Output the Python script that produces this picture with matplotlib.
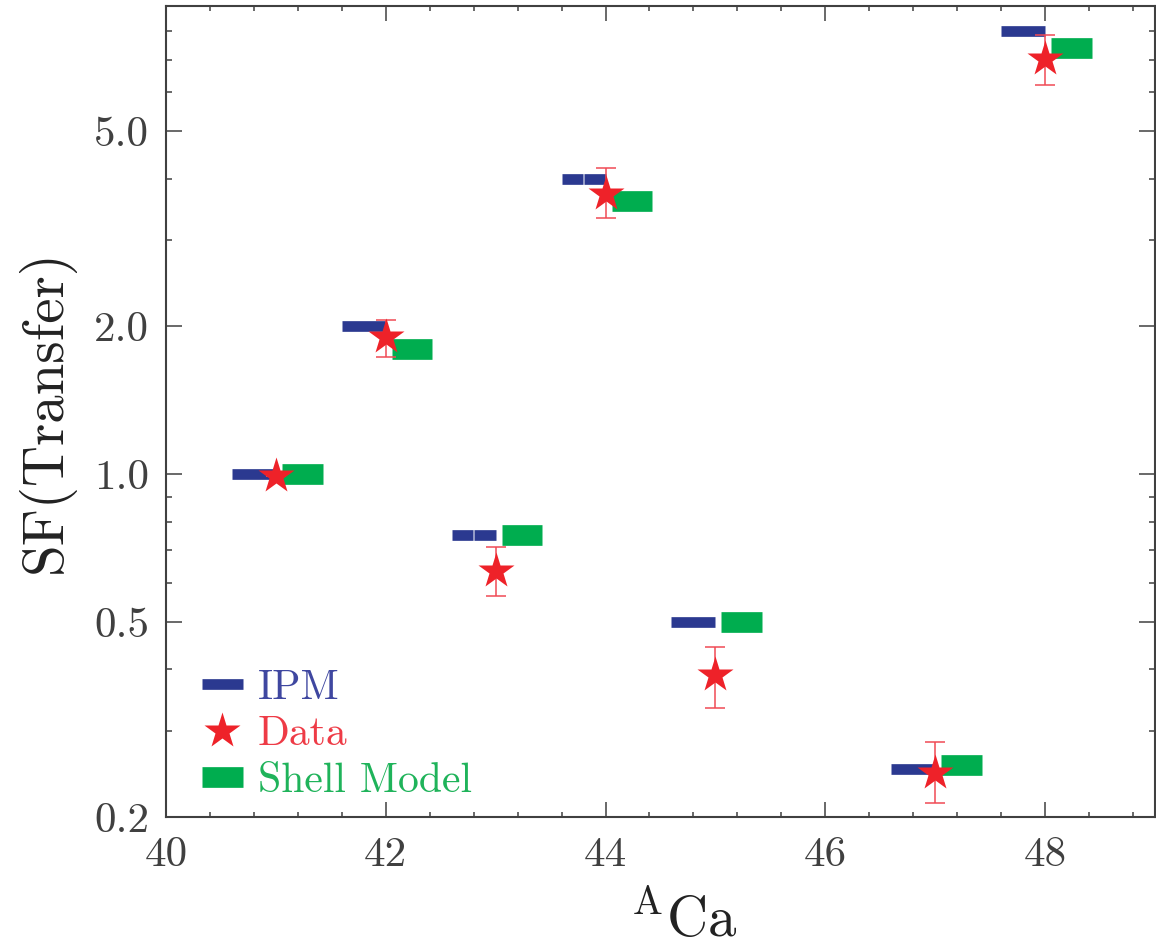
import numpy as np
import matplotlib
matplotlib.use("Agg")
import matplotlib.pyplot as plt
from matplotlib.lines import Line2D
from matplotlib.ticker import FixedLocator, FixedFormatter, NullFormatter

plt.rcParams['font.family'] = ['cmr10', 'DejaVu Serif']
plt.rcParams['mathtext.fontset'] = 'cm'
plt.rcParams['axes.unicode_minus'] = False

# mass number of the Ca isotope
mass = [41, 42, 43, 44, 45, 47, 48]

# spectroscopic factors
ipm = [1.0, 2.0, 0.75, 4.0, 0.5, 0.25, 8.0]
shell = [1.0, 1.8, 0.75, 3.6, 0.5, 0.255, 7.4]
data = [0.99, 1.90, 0.635, 3.73, 0.39, 0.246, 7.01]
data_lo = [0.99, 1.73, 0.564, 3.33, 0.334, 0.214, 6.21]
data_hi = [0.99, 2.06, 0.71, 4.20, 0.444, 0.284, 7.85]
ipm_split = [False, False, True, True, False, False, False]

y_major = [0.2, 0.5, 1.0, 2.0, 5.0]
y_major_labels = ['0.2', '0.5', '1.0', '2.0', '5.0']
y_minor = [0.3, 0.4, 0.6, 0.7, 0.8, 0.9, 3, 4, 6, 7, 8]

navy = '#2b3990'
green = '#00ad4f'
red = '#ee2229'
axcol = '#404040'

fig = plt.figure(figsize=(11.56, 9.51), dpi=100)
ax = fig.add_axes([0.1436, 0.1409, 0.8555, 0.8528])

# IPM bars: left of the mass number (some drawn as two halves)
for a, v, s in zip(mass, ipm, ipm_split):
    if s:
        ax.hlines([v, v], [a - 0.4, a - 0.193], [a - 0.207, a], colors=navy, lw=7.7, zorder=2)
    else:
        ax.hlines(v, a - 0.4, a, colors=navy, lw=7.7, zorder=2)

# shell model bars: right of the mass number
A = np.array(mass, dtype=float)
ax.hlines(shell, A + 0.055, A + 0.425, colors=green, lw=14.9, zorder=2)

# data with error bars
err = [np.array(data) - np.array(data_lo), np.array(data_hi) - np.array(data)]
ax.errorbar(A, data, yerr=err, fmt='none', ecolor='#f04a55', elinewidth=1.1,
            capsize=7.2, capthick=1.1, zorder=3)
ax.plot(A, data, ls='none', marker='*', ms=27.5, color=red, mec='none', zorder=4)

ax.set_yscale('log')
ax.set_xlim(40, 49)
ax.set_ylim(0.2, 9.0)

ax.set_xticks([40, 42, 44, 46, 48])
ax.set_xticks(np.arange(40, 49.01, 0.4), minor=True)
ax.yaxis.set_major_locator(FixedLocator(y_major))
ax.yaxis.set_major_formatter(FixedFormatter(y_major_labels))
ax.yaxis.set_minor_locator(FixedLocator(y_minor))
ax.yaxis.set_minor_formatter(NullFormatter())

ax.tick_params(which='both', direction='in', top=True, right=True,
               colors=axcol, labelsize=31, width=1.1)
ax.tick_params(axis='x', which='major', length=10.5, pad=14)
ax.tick_params(axis='x', which='minor', length=3.8)
ax.tick_params(axis='y', which='major', length=11.5, pad=12)
ax.tick_params(axis='y', which='minor', length=4.3)
for sp in ax.spines.values():
    sp.set_color(axcol)
    sp.set_linewidth(1.5)

ax.set_ylabel('SF(Transfer)', fontsize=41, color='#222222', labelpad=14)
ax.set_xlabel(r'${}^{\mathrm{A}}$Ca', fontsize=41, color='#222222')
ax.xaxis.set_label_coords(0.523, -0.092)

handles = [
    Line2D([], [], color=navy, lw=7.7, solid_capstyle='butt'),
    Line2D([], [], ls='none', marker='*', ms=27.5, color=red, mec='none'),
    Line2D([], [], color=green, lw=14.9, solid_capstyle='butt'),
]
ax.legend(handles, ['IPM', 'Data', 'Shell Model'], loc='lower left',
          bbox_to_anchor=(-0.002, -0.025), frameon=False, fontsize=30,
          handlelength=1.0, handletextpad=0.35, labelspacing=0.22,
          labelcolor=['#3f47a0', '#ee3b46', '#1fb35a'])

fig.savefig('out.png', dpi=100)
